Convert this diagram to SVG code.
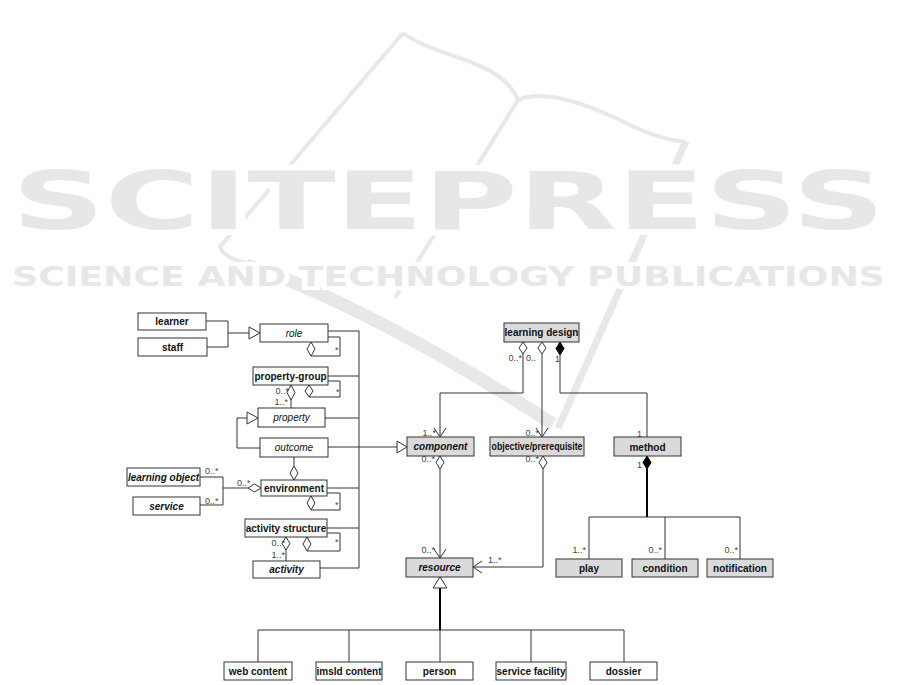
<svg xmlns="http://www.w3.org/2000/svg" width="901" height="685" viewBox="0 0 901 685">
<style>
.wm{fill:none;stroke:#e8e8e8;stroke-linecap:butt}
.wt{fill:#e6e7e6;stroke:#fff;paint-order:stroke;font-family:"DejaVu Sans",sans-serif;font-weight:bold}
.box{fill:#fff;stroke:#333;stroke-width:1}
.gbox{fill:#dadada;stroke:#333;stroke-width:1}
.lbl{font-family:"Liberation Sans",Arial,sans-serif;font-size:10px;font-weight:bold;fill:#111;text-anchor:middle}
.it{font-style:italic}
.nw{font-weight:normal}
.m{font-family:"Liberation Sans",Arial,sans-serif;font-size:9px;fill:#444}
.e{text-anchor:end}
.ln{fill:none;stroke:#333;stroke-width:1}
.thick{fill:none;stroke:#000;stroke-width:2}
.od{fill:#fff;stroke:#333;stroke-width:1}
.fd{fill:#000;stroke:#000;stroke-width:1}
</style>
<rect width="901" height="685" fill="#fff"/>
<g id="watermark">
<path class="wm" stroke-width="4" d="M403,33 L220,247 Q224,258 246,263"/>
<path class="wm" stroke-width="13" d="M246,265 C320,288 430,345 553,424"/>
<path class="wm" stroke-width="4" d="M403,33 C440,60 500,58 518,100"/>
<path class="wm" stroke-width="4" d="M518,100 C545,88 590,105 630,125 C655,137 670,140 686,142"/>
<path class="wm" stroke-width="4" d="M518,100 L395,298"/>
<path class="wm" stroke-width="7" d="M686,141 L558,428"/>
<text class="wt" x="12" y="229" font-size="80" stroke-width="12" textLength="873" lengthAdjust="spacingAndGlyphs">SCITEPRESS</text>
<text class="wt" x="12" y="286" font-size="26" stroke-width="8" textLength="873" lengthAdjust="spacingAndGlyphs">SCIENCE AND TECHNOLOGY PUBLICATIONS</text>
</g>
<g id="connectors">
<path class="ln" d="M206,321 H228 M207,347 H228 M228,321 V347 M228,333 H249"/>
<polygon class="od" points="249,327 260,333 249,339"/>
<path class="ln" d="M328,337 H340 V356 H311"/>
<polygon class="od" points="311,342 315,349 311,356 307,349"/>
<path class="ln" d="M328,331 H359 V568 M328,376 H359 M325,418 H359 M327,488 H359 M327,528 H359 M320,568 H359"/>
<path class="ln" d="M328,381 H340 V397 H309"/>
<polygon class="od" points="309,385 313,391 309,397 305,391"/>
<path class="ln" d="M291,400 V408"/>
<polygon class="od" points="291,385 295,392.5 291,400 287,392.5"/>
<path class="ln" d="M260,448 H237 V418 H247"/>
<polygon class="od" points="247,412 258,418 247,424"/>
<path class="ln" d="M328,447 H397"/>
<polygon class="od" points="397,441 407,447 397,453"/>
<path class="ln" d="M294,457 V466"/>
<polygon class="od" points="294,466 298,473 294,480 290,473"/>
<path class="ln" d="M327,493 H340 V510 H311"/>
<polygon class="od" points="311,496 315,503 311,510 307,503"/>
<path class="ln" d="M248,488 H223 M200,477 H223 V505 H200"/>
<polygon class="od" points="261,488 254.5,484 248,488 254.5,492"/>
<path class="ln" d="M327,533 H340 V551 H307"/>
<polygon class="od" points="307,537 311,544 307,551 303,544"/>
<path class="ln" d="M286,550 V561"/>
<polygon class="od" points="286,537 290,543.5 286,550 282,543.5"/>
<path class="ln" d="M523,354 V393 H440 V437 M434,428 L440,437 L446,428"/>
<polygon class="od" points="523,342 527,348 523,354 519,348"/>
<path class="ln" d="M542,354 V437 M536,428 L542,437 L548,428"/>
<polygon class="od" points="542,342 546,348 542,354 538,348"/>
<path class="ln" d="M560,355 V393 H647 V437"/>
<polygon class="fd" points="560,342 564,348.5 560,355 556,348.5"/>
<path class="ln" d="M440,469 V558 M434,549 L440,558 L446,549"/>
<polygon class="od" points="440,456 444,462.5 440,469 436,462.5"/>
<path class="ln" d="M543,469 V567 H473 M482,561 L473,567 L482,573"/>
<polygon class="od" points="543,456 547,462.5 543,469 539,462.5"/>
<path class="thick" d="M647,469 V517"/>
<path class="ln" d="M589,517 H740 M589,517 V559 M665,517 V559 M740,517 V559"/>
<polygon class="fd" points="647,456 651,462.5 647,469 643,462.5"/>
<path class="thick" d="M440,588 V630"/>
<path class="ln" d="M258,630 H624 M258,630 V662 M349,630 V662 M440,630 V662 M531,630 V662 M624,630 V662"/>
<polygon class="od" points="440,577 447,588 433,588"/>
<text class="m" x="335" y="353">*</text>
<text class="m" x="336" y="395">*</text>
<text class="m e" x="289" y="394">0..*</text>
<text class="m e" x="288" y="405">1..*</text>
<text class="m" x="205" y="474">0..*</text>
<text class="m" x="205" y="504">0..*</text>
<text class="m" x="237" y="486">0..*</text>
<text class="m" x="335" y="508">*</text>
<text class="m" x="335" y="545">*</text>
<text class="m e" x="285" y="546">0..*</text>
<text class="m e" x="285" y="558">1..*</text>
<text class="m e" x="522" y="361">0..*</text>
<text class="m" x="526" y="361">0..</text>
<text class="m" x="555" y="362">1</text>
<text class="m e" x="436" y="436">1..*</text>
<text class="m e" x="539" y="436">0..*</text>
<text class="m" x="637" y="437">1</text>
<text class="m e" x="435" y="462">0..*</text>
<text class="m e" x="539" y="462">0..*</text>
<text class="m" x="637" y="468">1</text>
<text class="m e" x="435" y="553">0..*</text>
<text class="m" x="488" y="563">1..*</text>
<text class="m e" x="586" y="553">1..*</text>
<text class="m e" x="662" y="553">0..*</text>
<text class="m e" x="738" y="553">0..*</text>
</g>
<g id="learner"><rect class="box" x="138" y="313" width="68" height="17"/><text class="lbl" x="172" y="325">learner</text></g>
<g id="staff"><rect class="box" x="138" y="338" width="69" height="18"/><text class="lbl" x="172.5" y="350.5">staff</text></g>
<g id="role"><rect class="box" x="260" y="324" width="68" height="18"/><text class="lbl it nw" x="294" y="336.5">role</text></g>
<g id="property-group"><rect class="box" x="253" y="367" width="75" height="18"/><text class="lbl" x="290.5" y="379.5">property-group</text></g>
<g id="property"><rect class="box" x="258" y="408" width="67" height="19"/><text class="lbl it nw" x="291.5" y="421">property</text></g>
<g id="outcome"><rect class="box" x="260" y="438" width="68" height="19"/><text class="lbl it nw" x="294" y="451">outcome</text></g>
<g id="environment"><rect class="box" x="261" y="480" width="66" height="16"/><text class="lbl" x="294" y="491.5">environment</text></g>
<g id="learning-object"><rect class="box" x="127" y="468" width="73" height="18"/><text class="lbl it" x="163.5" y="480.5">learning object</text></g>
<g id="service"><rect class="box" x="133" y="497" width="67" height="18"/><text class="lbl it" x="166.5" y="509.5">service</text></g>
<g id="activity-structure"><rect class="box" x="245" y="519" width="82" height="18"/><text class="lbl" x="286" y="531.5">activity structure</text></g>
<g id="activity"><rect class="box" x="253" y="561" width="67" height="17"/><text class="lbl it" x="286.5" y="573">activity</text></g>
<g id="learning-design"><rect class="gbox" x="504" y="323" width="75" height="19"/><text class="lbl" x="541.5" y="336">learning design</text></g>
<g id="component"><rect class="gbox" x="407" y="437" width="67" height="19"/><text class="lbl it" x="440.5" y="450">component</text></g>
<g id="objective-prerequisite"><rect class="gbox" x="490" y="437" width="94" height="19"/><text class="lbl" x="537" y="450" textLength="91" lengthAdjust="spacingAndGlyphs">objective/prerequisite</text></g>
<g id="method"><rect class="gbox" x="614" y="437" width="67" height="19"/><text class="lbl" x="647.5" y="450.5">method</text></g>
<g id="resource"><rect class="gbox" x="406" y="558" width="67" height="19"/><text class="lbl it" x="439.5" y="571">resource</text></g>
<g id="play"><rect class="gbox" x="556" y="559" width="66" height="18"/><text class="lbl" x="589" y="571.5">play</text></g>
<g id="condition"><rect class="gbox" x="632" y="559" width="66" height="18"/><text class="lbl" x="665" y="571.5">condition</text></g>
<g id="notification"><rect class="gbox" x="707" y="559" width="66" height="18"/><text class="lbl" x="740" y="571.5">notification</text></g>
<g id="web-content"><rect class="box" x="224" y="662" width="68" height="18"/><text class="lbl" x="258" y="674.5">web content</text></g>
<g id="imsld-content"><rect class="box" x="316" y="662" width="66" height="18"/><text class="lbl" x="349" y="674.5">imsld content</text></g>
<g id="person"><rect class="box" x="406" y="662" width="67" height="18"/><text class="lbl" x="439.5" y="674.5">person</text></g>
<g id="service-facility"><rect class="box" x="496" y="662" width="70" height="18"/><text class="lbl" x="531" y="674.5">service facility</text></g>
<g id="dossier"><rect class="box" x="590" y="662" width="67" height="18"/><text class="lbl" x="623.5" y="674.5">dossier</text></g>
</svg>
